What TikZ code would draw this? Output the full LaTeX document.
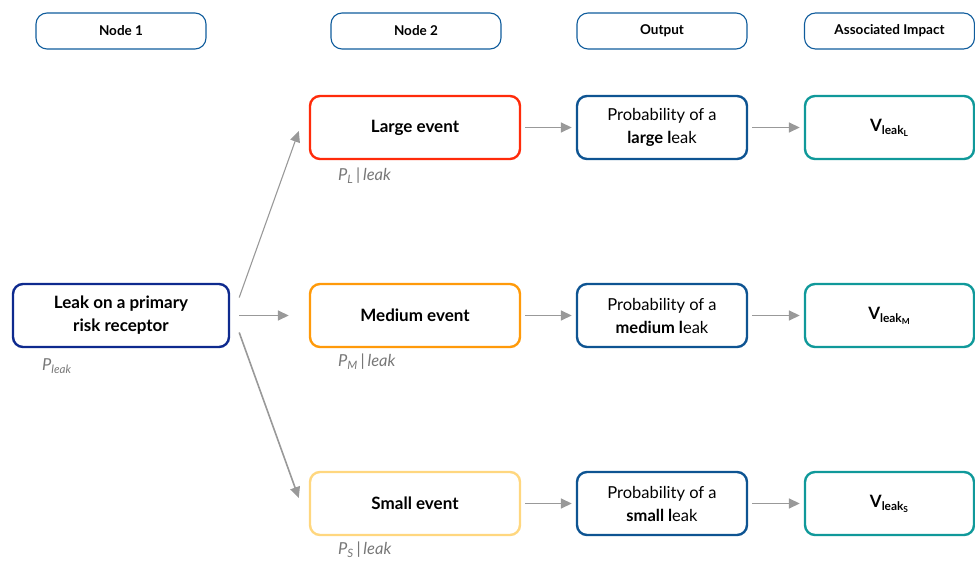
\documentclass[tikz,border=0pt]{standalone}
\usepackage{fontspec}
\setmainfont{Lato}
\usetikzlibrary{arrows.meta,calc}
\definecolor{hdr}{HTML}{0F5C9C}
\definecolor{navy}{HTML}{0E2A8E}
\definecolor{probc}{HTML}{0E5492}
\definecolor{teal}{HTML}{10999A}
\definecolor{redc}{HTML}{FF2B0A}
\definecolor{orangec}{HTML}{FF9A0A}
\definecolor{yellowc}{HTML}{FFD77F}
\definecolor{arrc}{HTML}{999999}
\definecolor{labc}{HTML}{777777}
\tikzset{
  hdrbox/.style={draw=hdr, line width=1.1pt, rounded corners=11pt, minimum width=170pt, minimum height=36pt, inner sep=0pt, font=\fontsize{13.5}{15}\selectfont\bfseries},
  mainbox/.style={line width=2.4pt, rounded corners=10pt, minimum height=63pt, inner sep=0pt, align=center, font=\fontsize{16.5}{23}\selectfont},
  evbox/.style={mainbox, minimum width=210pt, font=\fontsize{17}{23}\selectfont\bfseries},
  probbox/.style={mainbox, draw=probc, minimum width=170pt},
  vbox/.style={mainbox, draw=teal, minimum width=169pt, font=\fontsize{17}{23}\selectfont\bfseries},
  arr/.style={draw=arrc, line width=1.6pt, -{Triangle[length=11pt,width=10pt]}},
  lab/.style={text=labc, font=\fontsize{16.5}{18}\selectfont\itshape, anchor=west, inner sep=0pt}
}
\begin{document}
\begin{tikzpicture}[x=1pt,y=-1pt]
\useasboundingbox (0,0) rectangle (975,561);
% headers
\node[hdrbox] (h1) at (121,31) {Node 1};
\node[hdrbox] (h2) at (416,31) {Node 2};
\node[hdrbox] (h3) at (662,31) {Output};
\node[hdrbox] (h4) at (889.5,31) {Associated Impact};
% node 1
\node[mainbox, draw=navy, minimum width=216pt, font=\fontsize{17}{23}\selectfont\bfseries] (leak) at (121,315.5) {Leak on a primary\\risk receptor};
% events
\node[evbox, draw=redc] (large) at (415,127.5) {Large event};
\node[evbox, draw=orangec] (medium) at (415,315.5) {Medium event};
\node[evbox, draw=yellowc] (small) at (415,503.5) {Small event};
% probabilities
\node[probbox] (pl) at (662,127.5) {Probability of a\\\textbf{large l}eak};
\node[probbox] (pm) at (662,315.5) {Probability of a\\\textbf{medium l}eak};
\node[probbox] (ps) at (662,503.5) {Probability of a\\\textbf{small l}eak};
% impacts
\node[vbox] (vl) at (889.5,127.5) {V\textsubscript{leak\textsubscript{L}}};
\node[vbox] (vm) at (889.5,315.5) {V\textsubscript{leak\textsubscript{M}}};
\node[vbox] (vs) at (889.5,503.5) {V\textsubscript{leak\textsubscript{S}}};
% labels
\node[lab] (lleak) at (42,366) {P\textsubscript{leak}};
\node[lab] (ll) at (338,176) {P\textsubscript{L}\,{\upshape|}\,leak};
\node[lab] (lm) at (338,362) {P\textsubscript{M}\,{\upshape|}\,leak};
\node[lab] (ls) at (338,550) {P\textsubscript{S}\,{\upshape|}\,leak};
% arrows from node 1
\draw[arr, line width=1.1pt] ($(leak.east)+(9,-18)$) -- ($(large.west)+(-10,3.5)$);
\draw[arr] ($(leak.east)+(9,0)$) -- ($(medium.west)+(-20,0)$);
\draw[arr] ($(leak.east)+(9,17)$) -- ($(small.west)+(-10,-5.5)$);
% horizontal arrows
\foreach \a/\b in {large/pl, medium/pm, small/ps, pl/vl, pm/vm, ps/vs}
  \draw[arr, shorten <=4pt, shorten >=4pt] (\a) -- (\b);
\end{tikzpicture}
\end{document}
